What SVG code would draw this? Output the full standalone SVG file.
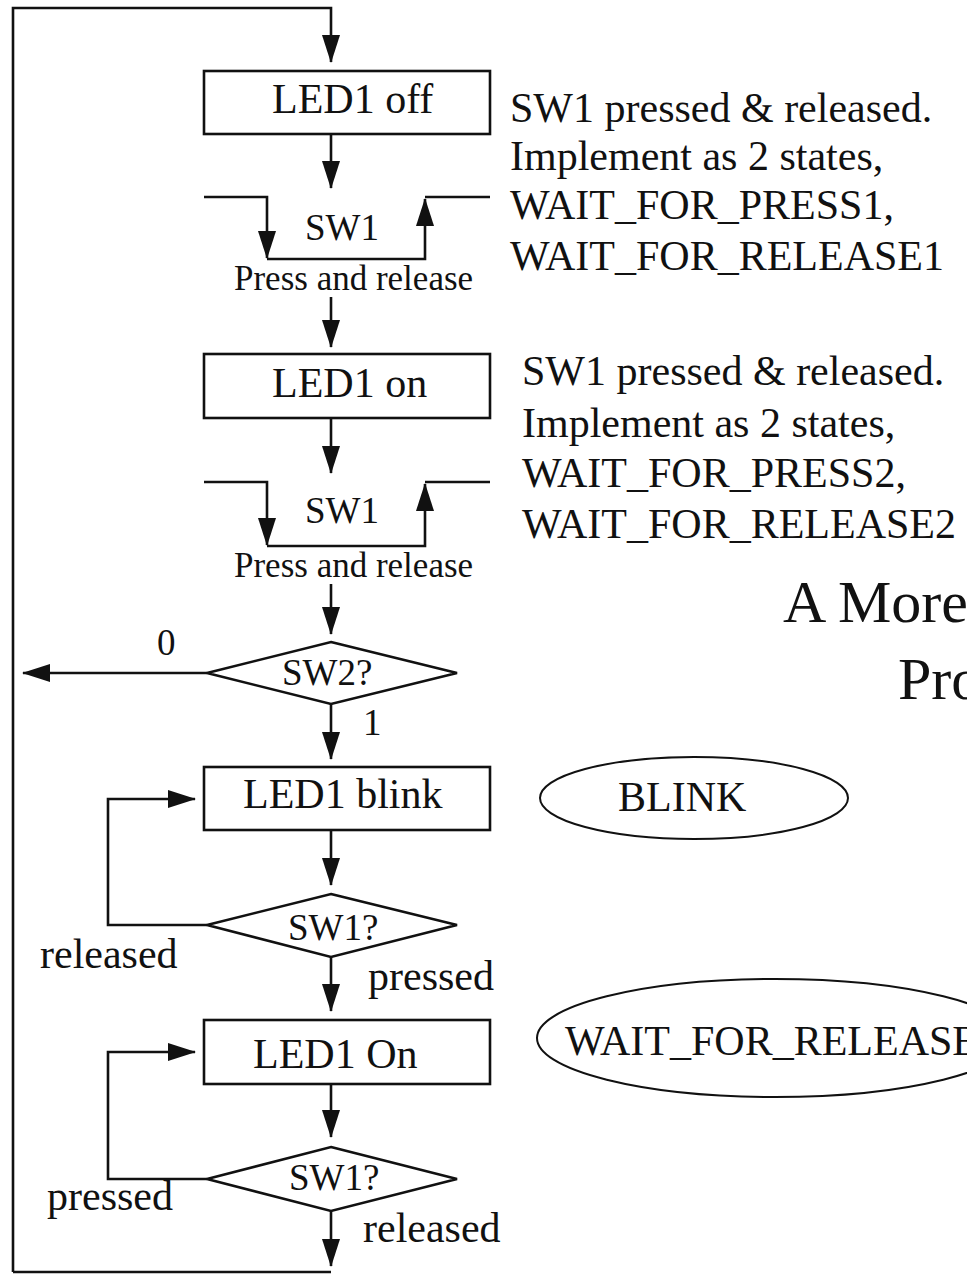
<svg xmlns="http://www.w3.org/2000/svg" width="967" height="1275" viewBox="0 0 967 1275">
<style>
text{font-family:"Liberation Serif","Times New Roman",serif;fill:#111}
.box{fill:#fff;stroke:#111;stroke-width:2.6}
.dia{fill:#fff;stroke:#111;stroke-width:2.6}
.ell{fill:#fff;stroke:#111;stroke-width:2}
.ln{fill:none;stroke:#111;stroke-width:2.6}
.arr{fill:none;stroke:#111;stroke-width:2.6;marker-end:url(#ah)}
.big{font-size:42px}
.mid{font-size:37px}
.sm{font-size:35px}
.title{font-size:60px}
</style>
<defs>
<marker id="ah" markerUnits="userSpaceOnUse" markerWidth="28" markerHeight="18" refX="27" refY="9" orient="auto">
<path d="M0,0 L28,9 L0,18 Z" fill="#111"/>
</marker>
</defs>
<rect width="967" height="1275" fill="#fff"/>

<g id="connectors">
<path class="arr" d="M13,1272 V8 H331 V62"/>
<path class="ln" d="M13,1272 H331"/>
<path class="arr" d="M331,134 V188"/>
<path class="arr" d="M204,197 H267 V258"/>
<path class="arr" d="M267,259 H425 V199"/>
<path class="ln" d="M425,197 H490"/>
<path class="arr" d="M331,297 V347"/>
<path class="arr" d="M331,418 V473"/>
<path class="arr" d="M204,482 H267 V545"/>
<path class="arr" d="M267,546 H425 V484"/>
<path class="ln" d="M425,482 H490"/>
<path class="arr" d="M331,584 V634"/>
<path class="arr" d="M207,673 H23"/>
<path class="arr" d="M331,704 V759"/>
<path class="arr" d="M331,830 V885"/>
<path class="arr" d="M207,925 H108 V799 H195"/>
<path class="arr" d="M331,957 V1011"/>
<path class="arr" d="M331,1084 V1137"/>
<path class="arr" d="M207,1179 H108 V1052 H195"/>
<path class="arr" d="M331,1211 V1266"/>
<text class="mid" x="157" y="655">0</text>
<text class="mid" x="363" y="735">1</text>
<text class="big" x="40" y="968">released</text>
<text class="big" x="368" y="990">pressed</text>
<text class="big" x="47" y="1210">pressed</text>
<text class="big" x="363" y="1242">released</text>
</g>

<g id="led1off">
<rect class="box" x="204" y="71" width="286" height="63"/>
<text class="big" x="272" y="113">LED1 off</text>
</g>
<g id="sw1a">
<text class="mid" x="305" y="240">SW1</text>
<text class="sm" x="234" y="290">Press and release</text>
</g>
<g id="note1">
<text class="big" x="510" y="122">SW1 pressed &amp; released.</text>
<text class="big" x="510" y="170">Implement as 2 states,</text>
<text class="big" x="510" y="219">WAIT_FOR_PRESS1,</text>
<text class="big" x="510" y="270">WAIT_FOR_RELEASE1</text>
</g>
<g id="led1on">
<rect class="box" x="204" y="354" width="286" height="64"/>
<text class="big" x="272" y="397">LED1 on</text>
</g>
<g id="sw1b">
<text class="mid" x="305" y="523">SW1</text>
<text class="sm" x="234" y="577">Press and release</text>
</g>
<g id="note2">
<text class="big" x="522" y="385">SW1 pressed &amp; released.</text>
<text class="big" x="522" y="437">Implement as 2 states,</text>
<text class="big" x="522" y="487">WAIT_FOR_PRESS2,</text>
<text class="big" x="522" y="538">WAIT_FOR_RELEASE2</text>
</g>
<g id="title">
<text class="title" x="783" y="622">A More</text>
<text class="title" x="898" y="699">Pro</text>
</g>
<g id="sw2q">
<polygon class="dia" points="331,642 457,673 331,704 207,673"/>
<text class="mid" x="282" y="685">SW2?</text>
</g>
<g id="led1blink">
<rect class="box" x="204" y="767" width="286" height="63"/>
<text class="big" x="243" y="808">LED1 blink</text>
</g>
<g id="sw1q1">
<polygon class="dia" points="331,894 457,925 331,957 207,925"/>
<text class="mid" x="288" y="940">SW1?</text>
</g>
<g id="led1On2">
<rect class="box" x="204" y="1020" width="286" height="64"/>
<text class="big" x="253" y="1068">LED1 On</text>
</g>
<g id="sw1q2">
<polygon class="dia" points="331,1147 457,1179 331,1211 207,1179"/>
<text class="mid" x="289" y="1190">SW1?</text>
</g>
<g id="blink">
<ellipse class="ell" cx="694" cy="798" rx="154" ry="41"/>
<text class="big" x="618" y="811">BLINK</text>
</g>
<g id="waitrelease">
<ellipse class="ell" cx="775" cy="1038" rx="238" ry="59"/>
<text class="big" x="565" y="1055">WAIT_FOR_RELEASE</text>
</g>
</svg>
